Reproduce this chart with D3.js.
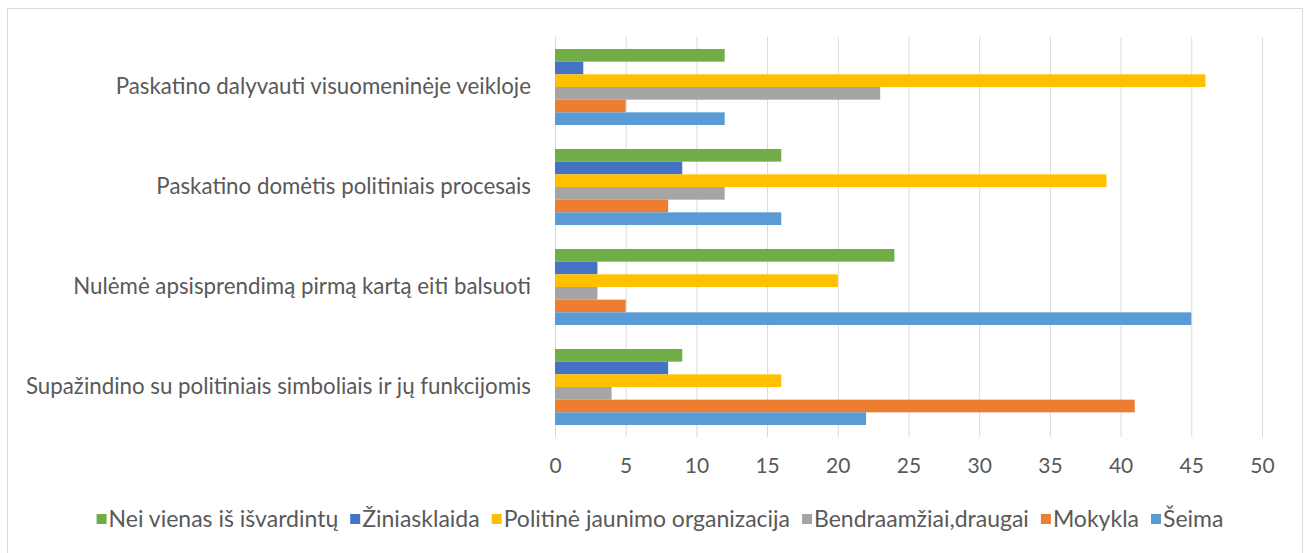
<!DOCTYPE html>
<html><head><meta charset="utf-8">
<script src="https://cdn.jsdelivr.net/npm/d3@7"></script>
<style>
body{margin:0;background:#fff;}
text{font-family:"Lato","Open Sans",sans-serif;}
</style></head>
<body>
<svg id="c" width="1311" height="553"></svg>
<script>
const categories = [
  "Paskatino dalyvauti visuomeninėje veikloje",
  "Paskatino domėtis politiniais procesais",
  "Nulėmė apsisprendimą pirmą kartą eiti balsuoti",
  "Supažindino su politiniais simboliais ir jų funkcijomis"
];
// series listed top-to-bottom within each group
const seriesNames = ["Nei vienas iš išvardintų","Žiniasklaida","Politinė jaunimo organizacija","Bendraamžiai,draugai","Mokykla","Šeima"];
const seriesColors = ["#70AD47","#4472C4","#FFC000","#A5A5A5","#ED7D31","#5B9BD5"];
const neiVienas    = [12,16,24,9];
const ziniasklaida = [2,9,3,8];
const politine     = [46,39,20,16];
const bendraamziai = [23,12,3,4];
const mokykla      = [5,8,5,41];
const seima        = [12,16,45,22];
const seriesValues = [neiVienas,ziniasklaida,politine,bendraamziai,mokykla,seima];
const xTicks = [0,5,10,15,20,25,30,35,40,45,50];

(function(){
const svg = d3.select("#c");
svg.append("rect").attr("x",7.5).attr("y",8.5).attr("width",1295).attr("height",550)
  .attr("fill","#fff").attr("stroke","#d9d9d9").attr("stroke-width",1);

const pl=555, pr=1262, pt=37, pb=437;
const x = d3.scaleLinear().domain([0,50]).range([pl,pr]);
const y0 = d3.scaleBand().domain(categories).range([pt,pb]).paddingInner(0.24).paddingOuter(0.12);
const y1 = d3.scaleBand().domain(seriesNames).range([0,y0.bandwidth()]);

// grid
svg.append("g").selectAll("line").data(xTicks).join("line")
  .attr("x1",d=>x(d)+0.5).attr("x2",d=>x(d)+0.5).attr("y1",pt).attr("y2",pb)
  .attr("stroke","#d9d9d9").attr("stroke-width",1);

// bars
const g = svg.append("g");
seriesNames.forEach((s,i)=>{
  g.append("g").selectAll("rect").data(categories).join("rect")
    .attr("x",x(0)).attr("y",c=>y0(c)+y1(s))
    .attr("width",(c,j)=>x(seriesValues[i][j])-x(0))
    .attr("height",y1.bandwidth())
    .attr("fill",seriesColors[i]);
});

// x axis labels
const xAxis = d3.axisBottom(x).tickValues(xTicks).tickSize(0).tickPadding(0);
const xa = svg.append("g").attr("transform",`translate(0,${pb})`).call(xAxis);
xa.select(".domain").remove();
xa.selectAll("text").attr("y",29).attr("dy","0.35em").attr("font-size","21px").attr("fill","#595959")
  .style("font-family","Lato");

// category labels
const yAxis = d3.axisLeft(y0).tickSize(0).tickPadding(24);
const ya = svg.append("g").attr("transform",`translate(${pl},0)`).call(yAxis);
ya.select(".domain").remove();
ya.selectAll("text").attr("font-size","22.3px").attr("fill","#595959").style("font-family","Lato");

// legend
const leg = svg.append("g");
let lx = 0;
seriesNames.forEach((s,i)=>{
  const it = leg.append("g");
  it.append("rect").attr("x",0).attr("y",-5).attr("width",10).attr("height",10).attr("fill",seriesColors[i]);
  const t = it.append("text").attr("x",12).attr("y",0).attr("dy","0.35em")
    .attr("font-size","23px").attr("fill","#595959").text(s);
  const w = 12 + t.node().getComputedTextLength();
  it.attr("transform",`translate(${lx},0)`);
  lx += w + 12;
});
const total = lx - 12;
leg.attr("transform",`translate(${660 - total/2},519)`);
})();
</script>
</body></html>
